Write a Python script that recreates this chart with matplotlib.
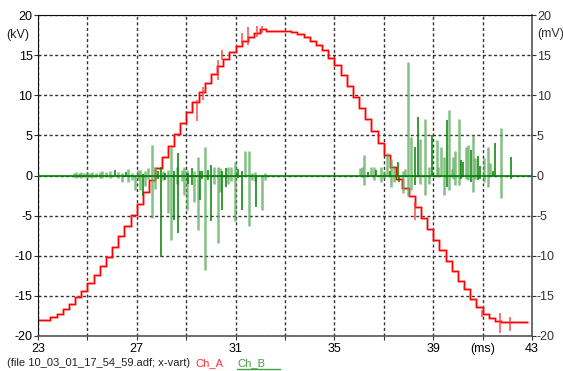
import matplotlib
matplotlib.use("Agg")
import matplotlib.pyplot as plt
import numpy as np

plt.rcParams['font.family'] = ['Liberation Sans', 'DejaVu Sans']

# Ch_A (kV), stepped trace, 0.25 ms sampling
t_a = [23.00, 23.25, 23.50, 23.75, 24.00, 24.25, 24.50, 24.75,
       25.00, 25.25, 25.50, 25.75, 26.00, 26.25, 26.50, 26.75,
       27.00, 27.25, 27.50, 27.75, 28.00, 28.25, 28.50, 28.75,
       29.00, 29.25, 29.50, 29.75, 30.00, 30.25, 30.50, 30.75,
       31.00, 31.25, 31.50, 31.75, 32.00, 32.25, 32.50, 32.75,
       33.00, 33.25, 33.50, 33.75, 34.00, 34.25, 34.50, 34.75,
       35.00, 35.25, 35.50, 35.75, 36.00, 36.25, 36.50, 36.75,
       37.00, 37.25, 37.50, 37.75, 38.00, 38.25, 38.50, 38.75,
       39.00, 39.25, 39.50, 39.75, 40.00, 40.25, 40.50, 40.75,
       41.00, 41.25, 41.50, 41.75, 42.00, 42.25, 42.50, 42.75, 42.80]
ch_a = [-18.0, -18.0, -17.6, -17.2, -16.6, -16.0, -15.2, -14.4,
        -13.4, -12.4, -11.3, -10.1, -8.9, -7.6, -6.3, -4.9,
        -3.5, -2.0, -0.6, 0.9, 2.3, 3.7, 5.2, 6.5,
        7.9, 9.1, 10.4, 11.5, 12.6, 13.6, 14.5, 15.4,
        16.1, 16.7, 17.2, 17.7, 18.2, 18.0, 18.0, 18.0,
        18.0, 17.9, 17.6, 17.2, 16.8, 16.3, 15.6, 14.7,
        13.8, 12.5, 11.1, 9.8, 8.4, 7.0, 5.5, 4.0,
        2.5, 1.0, -0.4, -1.5, -2.6, -3.9, -5.3, -6.7,
        -8.0, -9.3, -10.6, -11.9, -13.1, -14.2, -15.4, -16.4,
        -17.2, -17.8, -18.1, -18.2, -18.2, -18.2, -18.2, -18.2, -18.2]

# Ch_A glitches: x, low, high
a_spk_x = [29.42, 29.70, 30.30, 30.44, 31.25, 31.50, 31.85, 32.07,
           38.26, 40.96, 41.70, 42.10]
a_spk_lo = [6.8, 9.4, 11.9, 14.4, 16.5, 16.2, 17.3, 17.8,
            -5.5, -17.6, -19.6, -19.4]
a_spk_hi = [9.4, 11.0, 14.4, 15.6, 17.7, 18.5, 18.6, 18.6,
            -3.3, -16.7, -17.1, -17.6]

# Ch_B (mV), spikes drawn in the bright trace
b_dark_x = [26.10, 26.55, 27.26, 27.85, 27.96, 28.14, 28.52, 28.68,
            29.09, 29.23, 29.56, 29.65, 29.87, 30.00, 30.46, 30.60,
            31.10, 31.27, 31.84,
            36.37, 36.70, 37.25, 37.56, 37.62, 38.26, 38.38, 38.96,
            39.55, 40.12, 40.20, 40.53, 40.80, 40.90, 41.43, 41.50, 42.14]
b_dark_hi = [0.7, 0.4, 0.2, 0.5, 1.1, 0.3, 0.5, 2.8,
             0.3, 0.9, 0.5, 0.6, 0.7, 1.3, 0.5, 0.9,
             0.8, 0.5, 0.0,
             0.4, 0.7, 0.6, 1.7, 0.0, 3.6, 7.3, 5.0,
             6.9, 1.9, 1.7, 3.2, 2.4, 1.2, 0.5, 4.1, 2.3]
b_dark_lo = [0.0, -0.2, -2.6, -0.4, -10.1, -0.5, -5.5, -7.2,
             -1.0, -1.2, -3.0, -0.4, -0.5, -5.7, -4.3, -1.4,
             -0.3, -4.3, -3.9,
             0.0, 0.0, 0.0, 0.0, -0.8, -1.2, 0.0, 0.0,
             -1.4, -0.4, 0.0, -0.8, -0.6, -0.4, 0.0, 0.0, -0.4]

# Ch_B, spikes drawn in the pale trace
b_light_x = [24.45, 24.55, 24.65, 24.75, 24.85, 25.00, 25.10, 25.20,
             25.35, 25.50, 25.60, 25.75, 25.90,
             26.25, 26.40, 26.66, 26.80, 26.93, 27.05, 27.13, 27.33,
             27.45, 27.60, 27.74, 28.08, 28.25, 28.39, 28.61, 28.82,
             28.91, 29.02, 29.33, 29.47, 29.76, 30.14, 30.28, 30.37,
             30.68, 30.81, 30.97, 31.38, 31.54, 31.68, 31.79, 32.05, 32.19,
             36.04, 36.10, 36.20, 36.50, 36.60, 36.90, 37.00, 37.13,
             37.30, 37.43, 37.76, 37.84, 37.97, 38.10, 38.47, 38.68,
             38.82, 39.14, 39.20, 39.33, 39.43, 39.65, 39.75, 39.80,
             39.90, 40.04, 40.32, 40.42, 40.62, 40.71, 41.07, 41.20,
             41.30, 41.74]
b_light_hi = [0.3, 0.4, 0.3, 0.4, 0.3, 0.4, 0.3, 0.4,
              0.3, 0.4, 0.5, 0.4, 0.5,
              0.4, 0.3, 0.8, 0.3, 0.0, 0.7, 0.7, 0.6,
              0.9, 3.8, 1.0, 0.6, 0.7, 3.6, 1.0, 0.7,
              1.1, 0.7, 0.5, 2.3, 3.6, 1.0, 1.1, 0.9,
              1.0, 1.0, 1.7, 3.0, 3.0, 0.3, 0.4, 0.0, 0.3,
              0.9, 1.1, 2.6, 1.1, 1.0, 1.1, 0.5, 2.8,
              2.1, 1.1, 0.5, 0.8, 14.2, 4.8, 4.6, 7.0,
              1.0, 4.4, 1.1, 3.6, 2.3, 8.2, 0.8, 2.3,
              3.0, 7.1, 3.6, 3.8, 5.0, 2.2, 2.2, 3.6,
              1.5, 5.9]
b_light_lo = [-0.2, -0.3, -0.2, -0.3, -0.2, -0.3, -0.2, -0.3,
              -0.2, -0.3, -0.3, -0.2, -0.3,
              -0.3, -0.8, -0.8, -0.5, -1.8, -0.6, -1.8, -1.3,
              -0.4, -5.3, -1.7, -0.6, -4.7, -8.0, -1.0, -0.7,
              -2.4, -4.3, -3.3, -6.8, -11.8, -1.0, -8.4, -2.0,
              -1.0, -0.7, -5.7, 0.0, -6.3, -0.5, -0.7, -4.3, -0.5,
              0.0, -0.2, -1.2, 0.0, -0.5, -0.8, -0.3, 0.0,
              -1.4, -0.8, -2.2, 0.0, -2.6, -1.8, -1.0, -2.4,
              -1.0, -0.2, 0.0, 0.0, -2.4, -1.8, 0.0, -0.4,
              -1.2, -1.2, -0.4, -0.6, -2.0, -0.4, -0.8, -1.4,
              0.0, -2.8]

x_ticks = [23, 25, 27, 29, 31, 33, 35, 37, 39, 41, 43]
x_labels = ['23', '', '27', '', '31', '', '35', '', '39', '(ms)', '43']
y_ticks = [-20, -15, -10, -5, 0, 5, 10, 15, 20]

fig = plt.figure(figsize=(5.63, 3.71), dpi=100)
ax = fig.add_axes([38 / 563, 1 - 336 / 371, 494 / 563, 321 / 371])
ax2 = ax.twinx()

ax.set_xlim(23, 43)
ax.set_ylim(-20, 20)
ax2.set_ylim(-20, 20)

ax.set_xticks(x_ticks)
ax.set_xticklabels(x_labels)
ax.set_yticks(y_ticks)
ax.set_yticklabels([str(v) for v in y_ticks])
ax2.set_yticks(y_ticks)
ax2.set_yticklabels([str(v) for v in y_ticks])

ax.grid(True, color='#333333', linestyle=(0, (2.2, 1.8)), linewidth=1.0)
ax.set_axisbelow(True)

for s in ['left', 'top']:
    ax.spines[s].set_color('#111111')
for s in ['right', 'bottom']:
    ax.spines[s].set_color('#555555')
for s in ax2.spines.values():
    s.set_visible(False)
ax.spines['right'].set_linewidth(1.2)
ax.spines['bottom'].set_linewidth(1.2)

ax.tick_params(axis='both', direction='out', length=3, width=0.8,
               labelsize=9, pad=1, color='#333333')
ax.tick_params(axis='x', pad=2)
ax2.tick_params(axis='y', direction='out', length=3, width=0.8,
                labelsize=9, pad=0.5, color='#333333', labelcolor='#333333')

# Ch_A
ax.plot(t_a, ch_a, drawstyle='steps-post', color='#ff6060', lw=2.2, alpha=0.45)
ax.plot(t_a, ch_a, drawstyle='steps-post', color='#ff0000', lw=1.0)
ax.vlines(a_spk_x, a_spk_lo, a_spk_hi, color='#ff3030', lw=1.2, alpha=0.8)

# Ch_B
ax2.vlines(b_light_x, b_light_lo, b_light_hi, color='#5aad5a', lw=1.8, alpha=0.75)
ax2.axhline(0, color='#008000', lw=1.2)
ax2.vlines(b_dark_x, b_dark_lo, b_dark_hi, color='#008000', lw=1.1)

fig.text(18 / 563, 1 - 35 / 371, '(kV)', fontsize=9, ha='center', va='center',
         color='#222222')
fig.text(537 / 563, 1 - 34 / 371, '(mV)', fontsize=9, ha='left', va='center',
         color='#333333')

fig.text(7 / 563, 1 - 363 / 371, '(file 10_03_01_17_54_59.adf; x-vart)',
         fontsize=8, ha='left', va='center', color='#222222')
fig.text(195 / 563, 1 - 363 / 371, 'Ch_A', fontsize=8, ha='left',
         va='center', color='#ff3030')
fig.text(237 / 563, 1 - 363 / 371, 'Ch_B', fontsize=8, ha='left',
         va='center', color='#40a040')
fig.add_artist(plt.Line2D([237 / 563, 280 / 563], [1 - 369 / 371, 1 - 369 / 371],
                          color='#40a040', lw=1.0))

fig.savefig('out.png', dpi=100)
